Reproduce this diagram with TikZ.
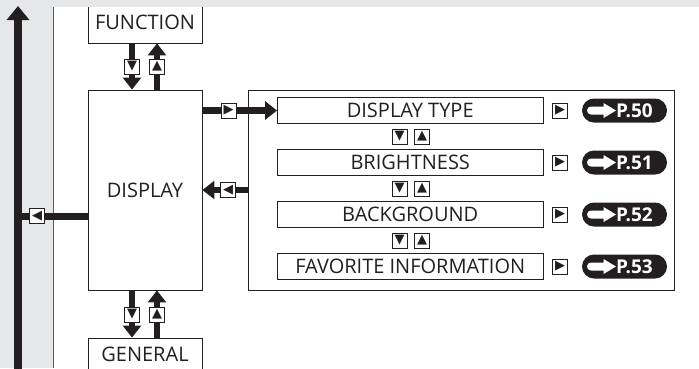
\documentclass[tikz,border=0pt]{standalone}
\usepackage{fontspec}
\setmainfont{Open Sans}
\newfontfamily\symfont{DejaVu Sans}
\usetikzlibrary{arrows.meta,calc}
\definecolor{bggray}{HTML}{E6E7E8}
\definecolor{ink}{HTML}{231F20}
\definecolor{edgegray}{HTML}{58595B}
\begin{document}
\begin{tikzpicture}[x=1pt,y=-1pt,
 box/.style={draw=ink, line width=0.9pt, fill=white, inner sep=0pt, font=\fontsize{20}{20}\selectfont, text=ink},
 symbox/.style={draw=ink, line width=0.8pt, fill=white, minimum size=15pt, inner sep=0pt, font=\symfont\fontsize{13}{13}\selectfont, text=ink},
 flow/.style={draw=ink, line width=6.5pt, -{Triangle[width=18pt,length=12pt]}},
 link/.style={draw=ink, line width=6.5pt},
 pill/.style={fill=ink, rounded corners=12pt, minimum width=85pt, minimum height=24pt, inner sep=0pt},
 pilltext/.style={text=white, font=\bfseries\fontsize{19}{19}\selectfont, inner sep=0pt},
]
\useasboundingbox (0,0) rectangle (699,368);
\fill[bggray] (0,0) rectangle (699,368);
\fill[white] (54,7) rectangle (699,368);

% left column boxes
\node[box, minimum width=114pt, minimum height=41pt] (func) at (145,22.5) {FUNCTION};
\node[box, minimum width=114pt, minimum height=200pt] (disp) at (145,190) {DISPLAY};
\node[box, minimum width=114pt, minimum height=32pt] (gen) at (145,354) {GENERAL};

% menu frame and rows
\node[draw=ink, line width=1pt, fill=white, minimum width=426pt, minimum height=200pt] (menu) at (461,190) {};
\foreach \i/\t/\p/\y in {1/DISPLAY TYPE/50/110.5, 2/BRIGHTNESS/51/162.5, 3/BACKGROUND/52/214.5, 4/FAVORITE INFORMATION/53/266.5}{
  \node[box, minimum width=265.5pt, minimum height=26pt] (r\i) at (410.25,\y) {\t};
  \node[symbox] (s\i) at (560,\y) {▶};
  \node[pill] (p\i) at (624.5,\y) {};
  \fill[white] ($(p\i)+(-33.5,-4)$) -- ($(p\i)+(-21,-4)$) -- ($(p\i)+(-21,-7.5)$) -- ($(p\i)+(-8.5,0)$) -- ($(p\i)+(-21,7.5)$) -- ($(p\i)+(-21,4)$) -- ($(p\i)+(-33.5,4)$) arc[start angle=90, end angle=270, radius=4] -- cycle;
  \node[pilltext] (pt\i) at ($(p\i)+(10,0)$) {P.\p};
}
\foreach \j/\y in {1/136.5, 2/188.5, 3/240.5}{
  \node[symbox] (d\j) at (399.5,\y) {▼};
  \node[symbox] (u\j) at (422,\y) {▲};
}

% top strip and edge
\fill[bggray] (54,0) rectangle (699,7);
\draw[edgegray, line width=1.5pt] (53.5,7) -- (53.5,368);

% big return arrow
\coordinate (bt) at (18,372);
\coordinate (tp) at (18,6);
\coordinate (j) at (18,216.5);
\draw[draw=ink, line width=8pt, -{Triangle[width=22pt,length=14pt]}] (bt) -- (tp);
\draw[link] (disp.west |- j) -- (j);
\node[symbox] (lb) at (37,216) {◀};

% vertical arrows
\draw[flow] ([xshift=-13pt]func.south) -- ([xshift=-13pt]disp.north);
\draw[flow] ([xshift=12pt]disp.north) -- ([xshift=12pt]func.south);
\draw[flow] ([xshift=-13pt]disp.south) -- ([xshift=-13pt]gen.north);
\draw[flow] ([xshift=12pt]gen.north) -- ([xshift=12pt]disp.south);
\node[symbox] (fd) at (132,66.5) {▼};
\node[symbox] (fu) at (157,66.5) {▲};
\node[symbox] (gd) at (132,314.5) {▼};
\node[symbox] (gu) at (157,314.5) {▲};

% horizontal arrows
\draw[flow] (disp.east |- r1) -- (r1.west);
\node[symbox] (rb) at (228.5,110.5) {▶};
\draw[flow] (menu.west) -- (disp.east);
\node[symbox] (mb) at (228,190) {◀};
\end{tikzpicture}
\end{document}
